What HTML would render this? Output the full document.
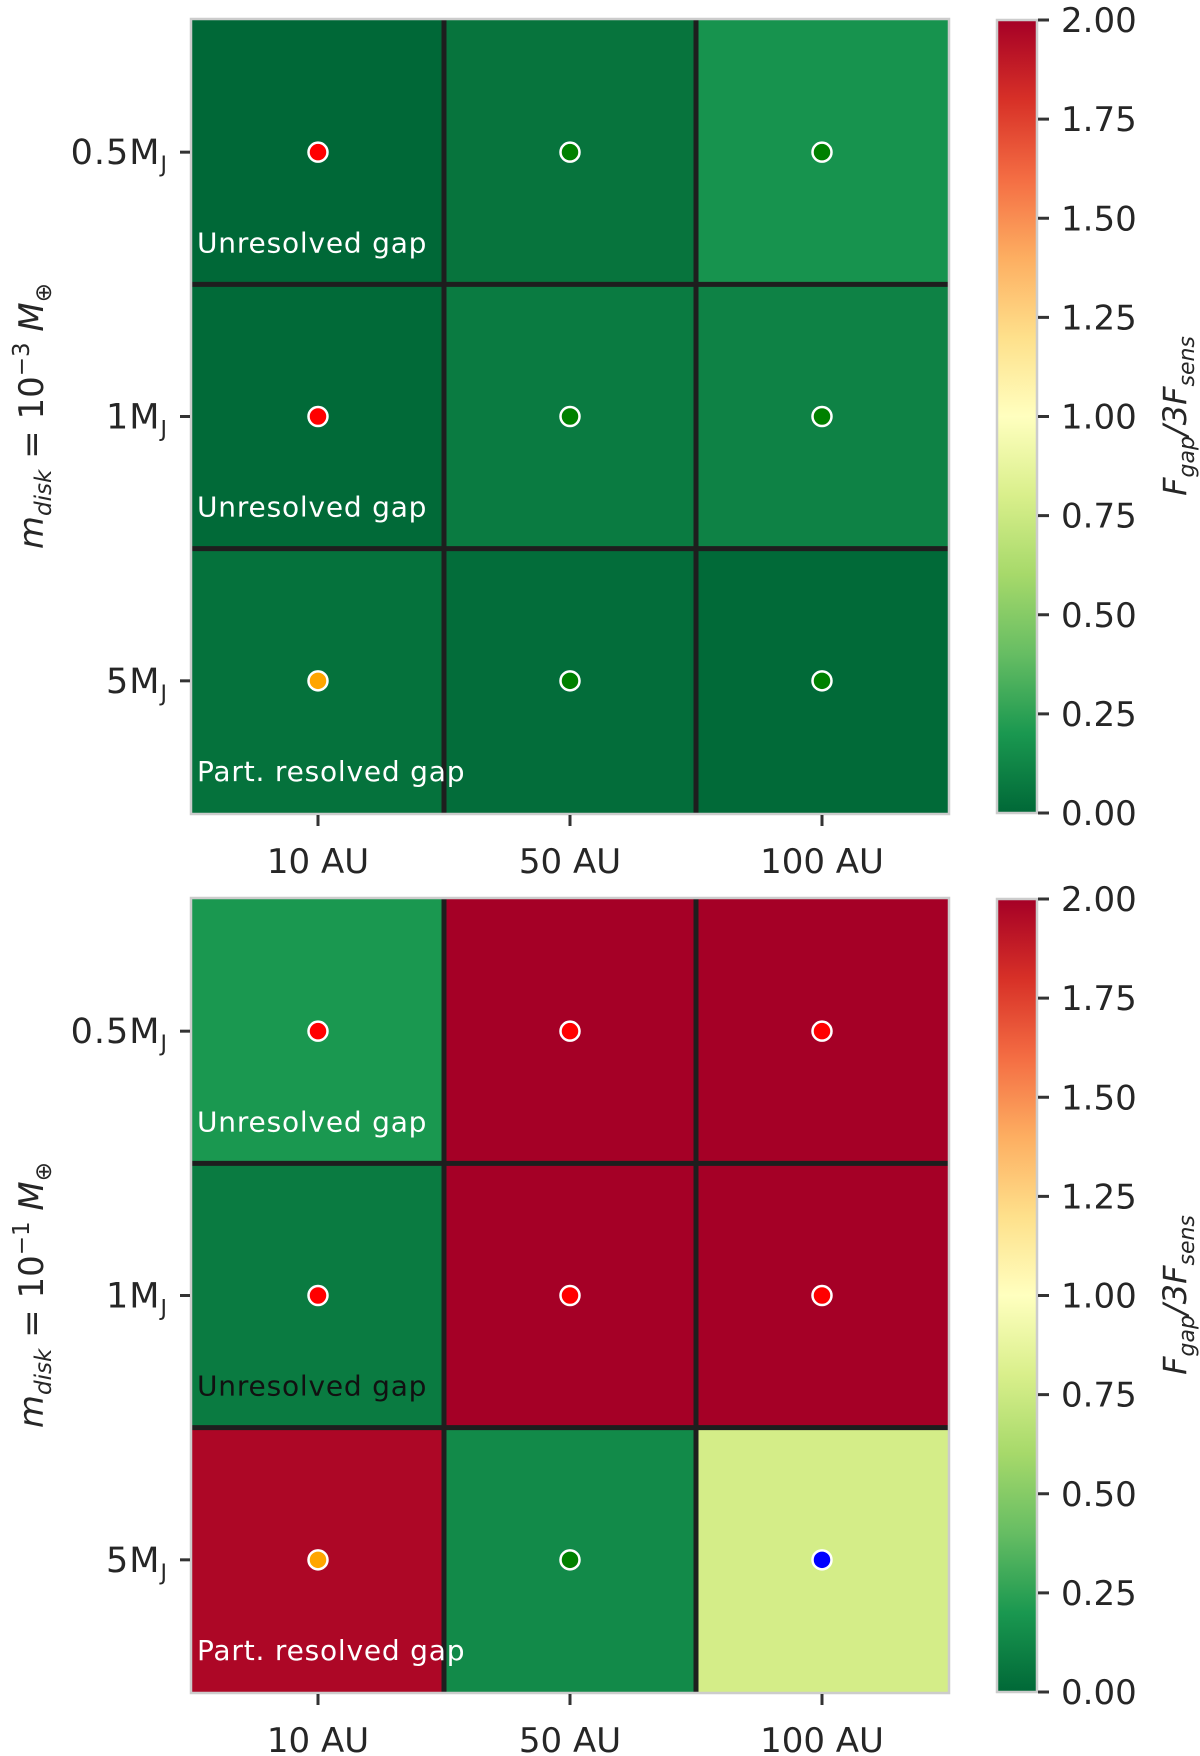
<!DOCTYPE html>
<html><head><meta charset="utf-8"><style>
html,body{margin:0;padding:0;background:#fff;}
svg{display:block;font-family:"DejaVu Sans","Liberation Sans",sans-serif;}
</style></head><body>
<svg id="fig" width="1200" height="1756" viewBox="0 0 1200 1756" xmlns="http://www.w3.org/2000/svg">
<defs>
<linearGradient id="cmap" x1="0" y1="1" x2="0" y2="0">
<stop offset="0" stop-color="#006837"/><stop offset="0.1" stop-color="#1a9850"/><stop offset="0.2" stop-color="#66bd63"/><stop offset="0.3" stop-color="#a6d96a"/><stop offset="0.4" stop-color="#d9ef8b"/><stop offset="0.5" stop-color="#ffffbf"/><stop offset="0.6" stop-color="#fee08b"/><stop offset="0.7" stop-color="#fdae61"/><stop offset="0.8" stop-color="#f46d43"/><stop offset="0.9" stop-color="#d73027"/><stop offset="1" stop-color="#a50026"/>
</linearGradient>
</defs>
</svg>
<script>
const xCategories = ['10 AU','50 AU','100 AU'];
const yCategories = ['0.5M','1M','5M'];
const topValues = [[0.0,0.05,0.18],[0.01,0.08,0.11],[0.04,0.02,0.01]];
const bottomValues = [[0.2,2.0,2.0],[0.08,2.0,2.0],[1.97,0.14,0.78]];
const topDots = [['#ff0000','#008000','#008000'],['#ff0000','#008000','#008000'],['#ffa500','#008000','#008000']];
const bottomDots = [['#ff0000','#ff0000','#ff0000'],['#ff0000','#ff0000','#ff0000'],['#ffa500','#008000','#0000ff']];
const rowNotes = ['Unresolved gap','Unresolved gap','Part. resolved gap'];
const topNoteColors = ['#fff','#fff','#fff'];
const bottomNoteColors = ['#fff','#111','#fff'];
const cbarTicks = [0,0.25,0.5,0.75,1.0,1.25,1.5,1.75,2.0];
const yExps = ['−3','−1'];

const NS='http://www.w3.org/2000/svg';
const svg=document.getElementById('fig');
const stops=['#006837','#1a9850','#66bd63','#a6d96a','#d9ef8b','#ffffbf','#fee08b','#fdae61','#f46d43','#d73027','#a50026'];
function hex(h){return [1,3,5].map(i=>parseInt(h.substr(i,2),16));}
function cmap(v){let t=Math.max(0,Math.min(1,v/2))*10;let i=Math.min(9,Math.floor(t));let f=t-i;const a=hex(stops[i]),b=hex(stops[i+1]);return 'rgb('+a.map((x,k)=>Math.round(x+(b[k]-x)*f)).join(',')+')';}
function el(tag,attrs,parent){const e=document.createElementNS(NS,tag);for(const k in attrs)e.setAttribute(k,attrs[k]);(parent||svg).appendChild(e);return e;}
const L=192,R=948,W=(R-L)/3,H=793/3,CB=997;
function xPos(i){return L+W*(i+0.5);}
function panel(top,vals,dots,noteCols,exp,idx){
  const g=el('g',{});
  
  
  const yPos=r=>top+H*(r+0.5);
  for(let r=0;r<3;r++)for(let c=0;c<3;c++){
    const rc=el('rect',{x:L+W*c,y:top+H*r,width:W,height:H,fill:cmap(vals[r][c])},g);
    
    
  }
  for(let i=1;i<3;i++){
    el('line',{x1:L+W*i,y1:top,x2:L+W*i,y2:top+793,stroke:'#1e1e1e','stroke-width':5},g);
    el('line',{x1:L,y1:top+H*i,x2:R,y2:top+H*i,stroke:'#1e1e1e','stroke-width':5},g);
  }
  el('rect',{x:L-1,y:top-1,width:R-L+2,height:795,fill:'none',stroke:'#cccccc','stroke-width':2.5},g);
  for(let r=0;r<3;r++)for(let c=0;c<3;c++){
    const d=el('circle',{cx:xPos(c),cy:yPos(r),r:9.5,fill:dots[r][c],stroke:'#fff','stroke-width':2.5},g);
    
    
  }
  for(let r=0;r<3;r++){
    const t=el('text',{x:197,y:top+H*(r+1)-32,fill:noteCols[r],'font-size':28,'letter-spacing':0.8},g);
    t.textContent=rowNotes[r];
    
    
  }
  for(let r=0;r<3;r++){
    el('line',{x1:L-12,y1:yPos(r),x2:L-2,y2:yPos(r),stroke:'#333','stroke-width':3},g);
    const t=el('text',{x:L-24,y:yPos(r)+12,'text-anchor':'end','font-size':35,'letter-spacing':1,fill:'#262626'},g);
    t.textContent=yCategories[r];
    const s=el('tspan',{'font-size':22,dy:8},t);s.textContent='J';
    
    
  }
  for(let c=0;c<3;c++){
    el('line',{x1:xPos(c),y1:top+795,x2:xPos(c),y2:top+806,stroke:'#333','stroke-width':3},g);
    const t=el('text',{x:xPos(c),y:top+853,'text-anchor':'middle','font-size':34,fill:'#262626'},g);
    t.textContent=xCategories[c];
    
    
  }
  const cy=top+396;
  const yl=el('text',{transform:'translate(43,'+cy+') rotate(-90)','text-anchor':'middle','font-size':34,fill:'#262626'},g);
  yl.innerHTML='<tspan font-style="italic">m</tspan><tspan font-style="italic" font-size="23" dy="8">disk</tspan><tspan dy="-8"> = 10</tspan><tspan font-size="23" dy="-14">'+exp+'</tspan><tspan dy="14" font-style="italic"> M</tspan><tspan font-size="23" dy="8">⊕</tspan>';
  
  
  const cb=el('rect',{x:CB,y:top,width:40,height:793,fill:'url(#cmap)',stroke:'#cccccc','stroke-width':2.5},g);
  
  
  for(const v of cbarTicks){
    const y=top+793-v/2*793;
    el('line',{x1:CB+41,y1:y,x2:CB+52,y2:y,stroke:'#333','stroke-width':3},g);
    const t=el('text',{x:CB+64,y:y+12,'font-size':34,fill:'#262626'},g);
    t.textContent=v.toFixed(2);
    
    
  }
  const cl=el('text',{transform:'translate(1186,'+cy+') rotate(-90)','text-anchor':'middle','font-size':32,fill:'#262626'},g);
  cl.innerHTML='<tspan font-style="italic">F</tspan><tspan font-style="italic" font-size="22" dy="8">gap</tspan><tspan dy="-8" font-style="italic">/3F</tspan><tspan font-style="italic" font-size="22" dy="8">sens</tspan>';
  
  
}
panel(20,topValues,topDots,topNoteColors,yExps[0],0);
panel(899,bottomValues,bottomDots,bottomNoteColors,yExps[1],1);
</script>
</body></html>
